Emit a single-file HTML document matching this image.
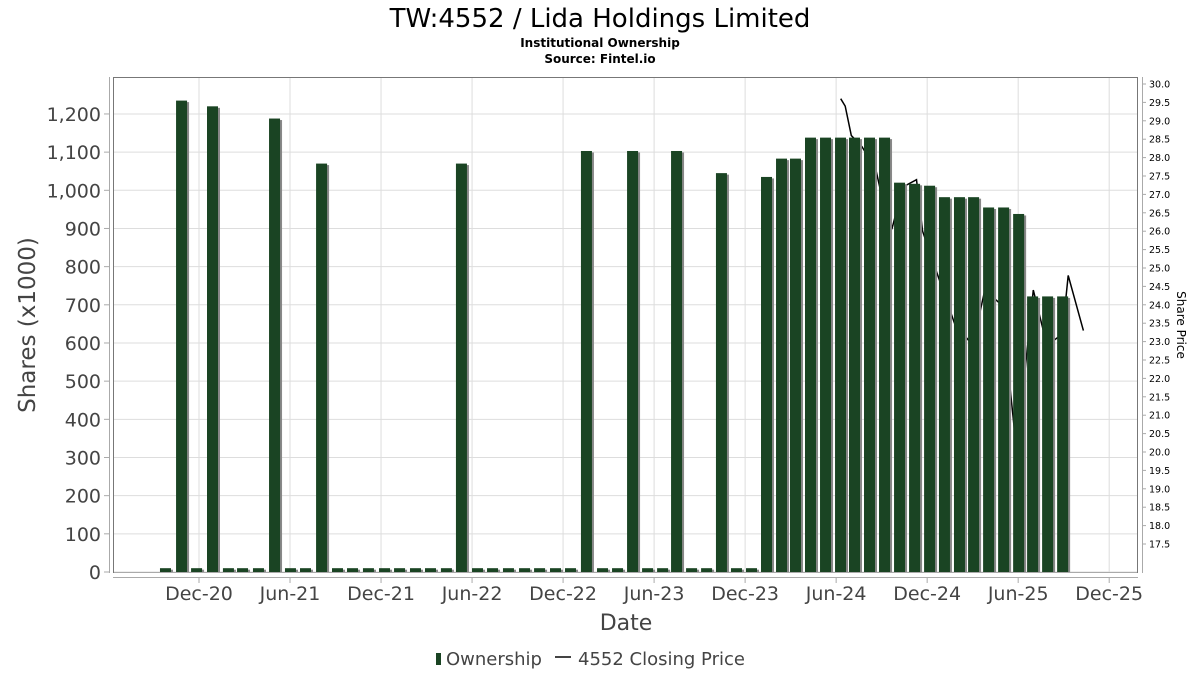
<!DOCTYPE html>
<html><head><meta charset="utf-8"><style>
body{margin:0;background:#fff;}
svg{display:block;font-family:"DejaVu Sans","Liberation Sans",sans-serif;}
</style></head><body>
<svg id="chart" width="1200" height="675" viewBox="0 0 1200 675">
<text x="600" y="27" text-anchor="middle" font-size="26" fill="#000">TW:4552 / Lida Holdings Limited</text>
<text x="600" y="47" text-anchor="middle" font-size="12" font-weight="bold" fill="#000">Institutional Ownership</text>
<text x="600" y="63" text-anchor="middle" font-size="12" font-weight="bold" fill="#000">Source: Fintel.io</text>
<rect x="113.5" y="77.5" width="1024" height="495" fill="#fff" stroke="#777"/>
<g id="grid"></g>
<g id="price"></g>
<g id="bars"></g>
<line x1="109.5" y1="77" x2="109.5" y2="573" stroke="#aaa"/>
<line x1="113" y1="577.5" x2="1138" y2="577.5" stroke="#aaa"/>
<line x1="1142.5" y1="77" x2="1142.5" y2="573" stroke="#aaa"/>
<g id="yticks"></g>
<g id="rticks"></g>
<g id="xticks"></g>
<text transform="translate(35,325) rotate(-90)" text-anchor="middle" font-size="23" fill="#444">Shares (x1000)</text>
<text transform="translate(1177,325) rotate(90)" text-anchor="middle" font-size="12" fill="#000">Share Price</text>
<text x="626" y="630" text-anchor="middle" font-size="22" fill="#444">Date</text>
<g>
<g>
<rect x="436" y="653" width="5" height="12" fill="#1a4423"/>
<text x="446" y="665" font-size="18" fill="#444">Ownership</text></g>
<g>
<line x1="555" y1="657" x2="571" y2="657" stroke="#444" stroke-width="2"/>
<text x="578" y="665" font-size="18" fill="#444">4552 Closing Price</text></g>
</g>
</svg>
<script>
// month offsets relative to Dec-20
const barMonths=[-2.21,-1.15,-0.16,0.89,1.94,2.87,3.92,4.98,6.03,7.02,8.08,9.13,10.12,11.17,12.23,13.22,14.27,15.26,16.31,17.3,18.36,19.35,20.4,21.46,22.45,23.5,24.49,25.54,26.6,27.59,28.58,29.57,30.56,31.48,32.47,33.46,34.44,35.43,36.42,37.41,38.4,39.32,40.31,41.3,42.29,43.21,44.2,45.19,46.18,47.17,48.16,49.14,50.13,51.06,52.05,53.04,54.03,54.95,55.94,56.93];
const shares=[10,1235,10,1220,10,10,10,1188,10,10,1070,10,10,10,10,10,10,10,10,1070,10,10,10,10,10,10,10,1103,10,10,1103,10,10,1103,10,10,1045,10,10,1035,1083,1083,1138,1138,1138,1138,1138,1138,1020,1017,1012,982,982,982,955,955,938,722,722,722];
const priceMonths=[42.3,42.6,43.0,43.7,44.6,45.2,45.7,46.4,47.3,47.7,48.7,49.8,51.0,51.8,52.9,53.9,55.0,55.9,56.9,57.3,58.3];
const prices=[29.6,29.4,28.6,28.3,27.7,26.6,26.1,27.2,27.4,26.0,24.8,23.5,22.9,24.4,24.0,20.0,24.4,22.9,23.2,24.8,23.3];
const xTickLabels=["Dec-20","Jun-21","Dec-21","Jun-22","Dec-22","Jun-23","Dec-23","Jun-24","Dec-24","Jun-25","Dec-25"];
const xTickMonths=[0,6,12,18,24,30,36,42,48,54,60];
const yTicks=[0,100,200,300,400,500,600,700,800,900,1000,1100,1200];
const rTicks=[17.5,18,18.5,19,19.5,20,20.5,21,21.5,22,22.5,23,23.5,24,24.5,25,25.5,26,26.5,27,27.5,28,28.5,29,29.5,30];
const NS="http://www.w3.org/2000/svg";
const X=m=>199+m*15.17;
const Y=v=>572-v*0.3817;
const R=p=>84+(30-p)*36.8;
function mk(tag,attrs,parent){const e=document.createElementNS(NS,tag);for(const k in attrs)e.setAttribute(k,attrs[k]);parent.appendChild(e);return e;}
const grid=document.getElementById('grid');
yTicks.forEach(v=>{const l=mk('line',{x1:114,x2:1137,y1:Y(v),y2:Y(v),stroke:'#ddd'},grid);

});
xTickMonths.forEach(m=>{const l=mk('line',{x1:X(m),x2:X(m),y1:78,y2:572,stroke:'#ddd'},grid);

});
const yt=document.getElementById('yticks');
yTicks.forEach(v=>{mk('line',{x1:104,x2:109,y1:Y(v),y2:Y(v),stroke:'#aaa'},yt);
const t=mk('text',{x:101,y:Y(v)+7,'text-anchor':'end','font-size':19,fill:'#444'},yt);t.textContent=v.toLocaleString('en-US');

});
const rt=document.getElementById('rticks');
rTicks.forEach(p=>{mk('line',{x1:1143,x2:1146,y1:R(p),y2:R(p),stroke:'#aaa'},rt);
const t=mk('text',{x:1149,y:R(p)+3.5,'font-size':9.5,fill:'#000'},rt);t.textContent=p.toFixed(1);

});
const xt=document.getElementById('xticks');
xTickLabels.forEach((s,i)=>{const x=X(xTickMonths[i]);mk('line',{x1:x,x2:x,y1:578,y2:583,stroke:'#aaa'},xt);
const t=mk('text',{x:x,y:600,'text-anchor':'middle','font-size':19,fill:'#444'},xt);t.textContent=s;

});
const pg=document.getElementById('price');
const pts=priceMonths.map((m,i)=>X(m).toFixed(1)+','+R(prices[i]).toFixed(1)).join(' ');
const pl=mk('polyline',{points:pts,fill:'none',stroke:'#000','stroke-width':1.5},pg);


const bg=document.getElementById('bars');
barMonths.forEach((m,i)=>{const cx=X(m),y=Y(shares[i]),w=11;
const s=mk('rect',{x:cx-w/2+2,y:y+1.5,width:w,height:572-y-1.5,fill:'#888'},bg);


const b=mk('rect',{x:cx-w/2,y:y,width:w,height:572-y,fill:'#1a4423'},bg);

});
</script>
</body></html>
